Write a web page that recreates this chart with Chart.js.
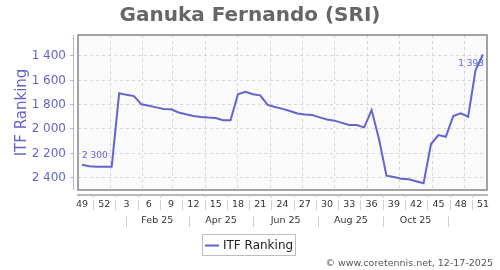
<!DOCTYPE html>
<html><head><meta charset="utf-8">
<script src="https://cdn.jsdelivr.net/npm/chart.js@4/dist/chart.umd.min.js"></script>
<style>html,body{margin:0;padding:0;background:#fff}</style>
</head><body>
<canvas id="c" width="500" height="270" style="display:block;width:500px;height:270px"></canvas>
<script>
const chartTitle = "Ganuka Fernando (SRI)";
const seriesName = "ITF Ranking";
const weekLabels = [49,50,51,52,1,2,3,4,5,6,7,8,9,10,11,12,13,14,15,16,17,18,19,20,21,22,23,24,25,26,27,28,29,30,31,32,33,34,35,36,37,38,39,40,41,42,43,44,45,46,47,48,49,50,51];
const ranking = [2300,2312,2315,2315,2315,1712,1725,1735,1803,1815,1828,1841,1844,1870,1885,1898,1907,1912,1915,1934,1934,1720,1699,1720,1729,1808,1825,1840,1858,1878,1887,1891,1910,1928,1937,1955,1973,1973,1992,1850,2090,2389,2400,2415,2418,2435,2452,2129,2055,2069,1899,1877,1905,1521,1393];
const yTicks = [1400,1600,1800,2000,2200,2400];
const monthStarts = ["2025-01-01","2025-02-01","2025-03-01","2025-04-01","2025-05-01","2025-06-01","2025-07-01","2025-08-01","2025-09-01","2025-10-01","2025-11-01","2025-12-01"];
const monthLabels = ["Feb 25","Apr 25","Jun 25","Aug 25","Oct 25"];
const credit = "\u00a9 www.coretennis.net, 12-17-2025";

const LINE = '#6464cc';
const fmt = n => String(n).replace(/\B(?=(\d{3})+(?!\d))/g, ' ');
const ref = Date.UTC(2024, 11, 6);
const toIdx = s => (Date.parse(s + 'T00:00:00Z') - ref) / (7 * 86400000);

function seg(ctx, x1, y1, x2, y2) { ctx.beginPath(); ctx.moveTo(x1, y1); ctx.lineTo(x2, y2); ctx.stroke(); }

const deco = {
  id: 'deco',
  beforeDatasetsDraw(chart) {
    const { ctx, chartArea: a, scales: { x, y } } = chart;
    ctx.save();
    ctx.fillStyle = '#fafafa';
    ctx.fillRect(a.left, a.top, a.right - a.left, a.bottom - a.top);
    ctx.strokeStyle = '#d6d6d6'; ctx.lineWidth = 1; ctx.setLineDash([3, 3]);
    yTicks.forEach(v => { const p = Math.round(y.getPixelForValue(v)) + 0.5; seg(ctx, a.left, p, a.right, p); });
    monthStarts.forEach(s => { const p = Math.round(x.getPixelForValue(toIdx(s))) + 0.5; seg(ctx, p, a.top, p, a.bottom); });
    ctx.restore();
  },
  afterDraw(chart) {
    const { ctx, chartArea: a, scales: { x, y } } = chart;
    const F = 'DejaVu Sans, sans-serif';
    ctx.save();
    // frame
    ctx.strokeStyle = '#858585'; ctx.lineWidth = 1.5;
    ctx.strokeRect(a.left, a.top, a.right - a.left, a.bottom - a.top);
    // title
    ctx.fillStyle = '#666'; ctx.font = 'bold 20px ' + F; ctx.textAlign = 'center'; ctx.textBaseline = 'alphabetic';
    ctx.fillText(chartTitle, 250, 21);
    // y axis line and ticks
    ctx.strokeStyle = '#b4b4e4'; ctx.lineWidth = 1;
    seg(ctx, 73.5, a.top, 73.5, a.bottom);
    ctx.fillStyle = LINE; ctx.font = '12px ' + F; ctx.textAlign = 'right'; ctx.textBaseline = 'middle';
    yTicks.forEach(v => {
      const p = Math.round(y.getPixelForValue(v)) + 0.5;
      seg(ctx, 70, p, 74, p);
      ctx.fillText(fmt(v), 66, p);
    });
    // y title
    ctx.save(); ctx.translate(22, (a.top + a.bottom) / 2); ctx.rotate(-Math.PI / 2);
    ctx.font = '15px ' + F; ctx.textAlign = 'center'; ctx.textBaseline = 'middle'; ctx.fillStyle = LINE;
    ctx.fillText(seriesName, 0, 0); ctx.restore();
    // x axis
    ctx.strokeStyle = '#a0a0a0'; ctx.lineWidth = 1.5;
    seg(ctx, a.left - 1, 195, a.right + 1, 195);
    ctx.fillStyle = '#333'; ctx.font = '9.5px ' + F; ctx.textAlign = 'center'; ctx.textBaseline = 'middle';
    for (let i = 0; i < weekLabels.length; i += 3) {
      ctx.fillText(String(weekLabels[i]), x.getPixelForValue(i), 205);
      if (i + 3 < weekLabels.length) {
        const p = Math.round(x.getPixelForValue(i + 1.5)) + 0.5;
        ctx.strokeStyle = '#d0d0d0'; ctx.lineWidth = 1;
        seg(ctx, p, 195, p, 198);
        seg(ctx, p, 200, p, 210);
      }
    }
    // month labels
    const starts = monthStarts.map(toIdx);
    const mids = starts.slice(0, -1).map((s, k) => (s + starts[k + 1]) / 2);
    monthLabels.forEach((t, k) => ctx.fillText(t, x.getPixelForValue(mids[2 * k + 1]), 221));
    ctx.strokeStyle = '#d0d0d0'; ctx.lineWidth = 1;
    for (let k = 0; k < mids.length; k += 2) {
      const p = Math.round(x.getPixelForValue(mids[k])) + 0.5;
      seg(ctx, p, 216, p, 227);
    }
    // point labels
    ctx.fillStyle = LINE; ctx.font = '9px ' + F;
    const n = ranking.length - 1;
    ctx.textAlign = 'left';
    ctx.fillText(fmt(ranking[0]), x.getPixelForValue(0), y.getPixelForValue(ranking[0]) - 9);
    ctx.textAlign = 'right';
    ctx.fillText(fmt(ranking[n]), x.getPixelForValue(n) + 1, y.getPixelForValue(ranking[n]) + 9);
    // legend
    ctx.fillStyle = '#fff'; ctx.strokeStyle = '#bdbdbd'; ctx.lineWidth = 1;
    ctx.fillRect(202.5, 234.5, 93, 21); ctx.strokeRect(202.5, 234.5, 93, 21);
    ctx.strokeStyle = LINE; ctx.lineWidth = 2; seg(ctx, 205, 245.5, 219, 245.5);
    ctx.fillStyle = '#222'; ctx.font = '12px ' + F; ctx.textAlign = 'left'; ctx.textBaseline = 'middle';
    ctx.fillText(seriesName, 223, 245.5);
    // credit
    ctx.fillStyle = '#555'; ctx.font = '9.5px ' + F; ctx.textAlign = 'right';
    ctx.fillText(credit, 493, 264);
    ctx.restore();
  }
};

new Chart(document.getElementById('c'), {
  type: 'line',
  data: {
    datasets: [{
      label: seriesName,
      data: ranking.map((v, i) => ({ x: i, y: v })),
      borderColor: LINE, borderWidth: 2, pointRadius: 0, tension: 0, fill: false
    }]
  },
  options: {
    responsive: false, animation: false, devicePixelRatio: 1,
    layout: { autoPadding: false, padding: { left: 78, right: 13, top: 35, bottom: 80 } },
    plugins: { legend: { display: false }, title: { display: false }, tooltip: { enabled: false } },
    scales: {
      x: { type: 'linear', display: false, min: -0.54, max: 54.54 },
      y: { type: 'linear', display: false, reverse: true, min: 1233, max: 2507 }
    }
  },
  plugins: [deco]
});
</script>
</body></html>
